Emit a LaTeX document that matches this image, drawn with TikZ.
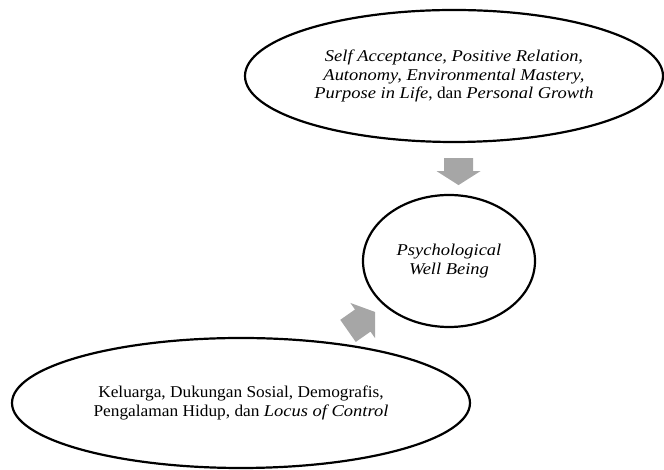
\documentclass[tikz,border=0pt]{standalone}
\usepackage{fontspec}
\setmainfont{Liberation Serif}[FakeStretch=1.05, ItalicFeatures={FakeStretch=1.12}]
\usetikzlibrary{shapes.geometric,calc}
\definecolor{arrowgray}{RGB}{166,166,166}
\tikzset{
  oval/.style={ellipse, draw=black, line width=2.2pt, inner sep=0pt, align=center,
    font=\fontsize{16.5}{18.2}\selectfont},
  blockfill/.style={fill=arrowgray, draw=none},
}
\begin{document}
\begin{tikzpicture}[x=1pt,y=1pt]
\useasboundingbox (0,0) rectangle (664,470);
\node[oval, minimum width=418, minimum height=132] (top) at (454,394)
  {\textit{Self Acceptance, Positive Relation,}\\
   \textit{Autonomy, Environmental Mastery,}\\
   \textit{Purpose in Life}, dan \textit{Personal Growth}};
\node[oval, minimum width=172, minimum height=132] (pwb) at (449,209)
  {\textit{Psychological}\\ \textit{Well Being}};
\node[oval, minimum width=458, minimum height=130] (bot) at (241,67)
  {Keluarga, Dukungan Sosial, Demografis,\\
   Pengalaman Hidup, dan \textit{Locus of Control}};
% down arrow from top to pwb
\coordinate (d1) at ($(top.south)+(4.5,-15)$);
\begin{scope}[shift={(d1)}, rotate=-90]
  \fill[blockfill] (0,-14.5) -- (13,-14.5) -- (13,-22) -- (27,0) -- (13,22) -- (13,14.5) -- (0,14.5) -- cycle;
\end{scope}
% diagonal arrow from bot to pwb
\coordinate (e1) at ($(bot.north)+(107,6)$);
\begin{scope}[shift={(e1)}, rotate=35]
  \fill[blockfill] (0,-13.5) -- (18,-13.5) -- (18,-21.5) -- (33,0) -- (18,21.5) -- (18,13.5) -- (0,13.5) -- cycle;
\end{scope}
\end{tikzpicture}
\end{document}
